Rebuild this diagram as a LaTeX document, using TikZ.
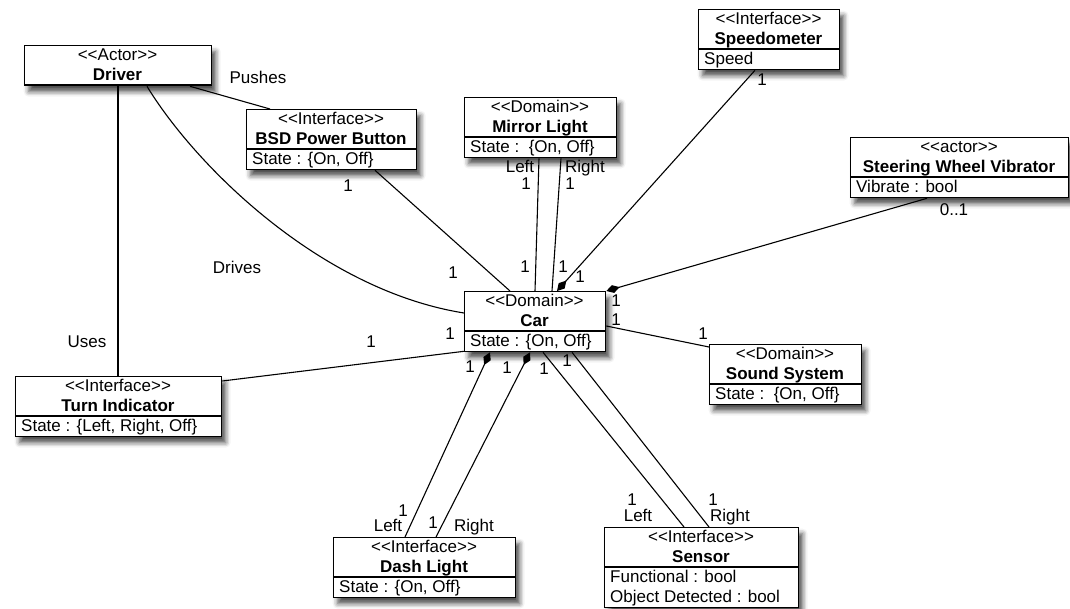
\documentclass[tikz,border=0pt]{standalone}
\usepackage{fontspec}
\setmainfont{Liberation Sans}
\usetikzlibrary{arrows.meta,calc,shadows.blur}
\newcommand\rs{\rule[-4.5pt]{0pt}{20pt}}
\newcommand\clsbox[8]{%
  \node[cbox, minimum width=#4pt, minimum height=#5pt, anchor=north west] (#1) at (#2,#3) {};
  \draw[boxline] (#2,#3+40) -- ++(#4,0);
  \node[txt, anchor=base] (#1-st) at (#2+#4/2,#3+15.5) {<\kern0pt<#6>\kern0pt>};
  \node[ttxt, anchor=base] (#1-nm) at (#2+#4/2,#3+35.5) {#7};
  \node[txt, anchor=north west, align=left] (#1-at) at (#2+6,#3+40) {#8};
}
\newcounter{lb}
\newcommand\lab[3]{\stepcounter{lb}\node[txt,anchor=base] (lab\thelb) at (#1,#2+6) {#3};}
\tikzset{
  cbox/.style={draw=black, line width=1.3pt, fill=white, inner sep=0pt,
    blur shadow={shadow xshift=4pt, shadow yshift=-6pt, shadow blur radius=5pt, shadow opacity=70}},
  boxline/.style={line width=1.1pt},
  txt/.style={inner sep=0pt, font=\fontsize{17}{20}\selectfont},
  ttxt/.style={inner sep=0pt, font=\fontsize{17}{20}\selectfont\bfseries},
  conn/.style={line width=1.1pt, black},
  comp/.style={conn, -{Diamond[length=14pt,width=8pt]}}
}
\begin{document}
\begin{tikzpicture}[x=1pt,y=-1pt]
\useasboundingbox (0,0) rectangle (1070,609);
\clsbox{driver}{24}{45}{187}{40}{Actor}{Driver}{}
\clsbox{bsd}{246}{109}{170}{60}{Interface}{BSD Power Button}{\rs State : \{On, Off\}}
\clsbox{mirror}{464}{97}{152}{60}{Domain}{Mirror Light}{\rs State :\ \ \{On, Off\}}
\clsbox{speedo}{698}{9}{141}{60}{Interface}{Speedometer}{\rs Speed}
\clsbox{steer}{850}{137}{218}{60}{actor}{Steering Wheel Vibrator}{\rs Vibrate : bool}
\clsbox{car}{464}{291}{141}{60}{Domain}{Car}{\rs State : \{On, Off\}}
\clsbox{sound}{709}{344}{152}{60}{Domain}{Sound System}{\rs State :\ \ \{On, Off\}}
\clsbox{turn}{15}{376}{206}{60}{Interface}{Turn Indicator}{\rs State : \{Left, Right, Off\}}
\clsbox{dash}{333}{537}{182}{60}{Interface}{Dash Light}{\rs State : \{On, Off\}}
\clsbox{sensor}{604}{527}{194}{80}{Interface}{Sensor}{\rs Functional : bool\\\rs Object Detected : bool}

\draw[conn] ($(driver.south west)+(166,0)$) -- ($(bsd.north west)+(24,0)$);
\draw[conn] ($(driver.south west)+(94,0)$) -- ($(turn.north west)+(103,0)$);
\draw[conn] ($(driver.south west)+(123,0)$) .. controls +(48,79) and +(-144,-23) .. ($(car.north west)+(0,22)$);
\draw[conn] ($(bsd.south west)+(129,0)$) -- ($(car.north west)+(46,0)$);
\draw[conn] ($(mirror.south west)+(75,0)$) -- ($(car.north west)+(71,0)$);
\draw[conn] ($(mirror.south west)+(97,0)$) -- ($(car.north west)+(88,0)$);
\draw[comp] ($(speedo.south west)+(57,0)$) -- ($(car.north west)+(93,0)$);
\draw[comp] ($(steer.south west)+(77,0)$) -- (car.north east);
\draw[conn] ($(car.north east)+(0,35)$) -- ($(sound.north west)+(0,3)$);
\draw[conn] ($(turn.north east)+(0,5)$) -- ($(car.south west)+(0,-1)$);
\draw[comp] ($(dash.north west)+(72,0)$) -- ($(car.south west)+(26,0)$);
\draw[comp] ($(dash.north west)+(103,0)$) -- ($(car.south west)+(66,0)$);
\draw[conn] ($(car.south west)+(79,0)$) -- ($(sensor.north west)+(80,0)$);
\draw[conn] ($(car.south west)+(108,0)$) -- ($(sensor.north west)+(105,0)$);

\lab{258}{78}{Pushes}
\lab{237}{268}{Drives}
\lab{87}{341}{Uses}
\lab{348}{186}{1}
\lab{453}{273}{1}
\lab{520}{167}{Left}
\lab{526}{184}{1}
\lab{585}{167}{Right}
\lab{570}{184}{1}
\lab{525}{267}{1}
\lab{563}{267}{1}
\lab{580}{277}{1}
\lab{762}{80}{1}
\lab{954}{210}{0..1}
\lab{616}{301}{1}
\lab{616}{320}{1}
\lab{703}{333}{1}
\lab{450}{333}{1}
\lab{371}{342}{1}
\lab{470}{366}{1}
\lab{507}{367}{1}
\lab{544}{368}{1}
\lab{567}{360}{1}
\lab{403}{510}{1}
\lab{388}{525}{Left}
\lab{433}{522}{1}
\lab{474}{525}{Right}
\lab{632}{499}{1}
\lab{638}{515}{Left}
\lab{713}{499}{1}
\lab{730}{515}{Right}
\end{tikzpicture}
\end{document}
